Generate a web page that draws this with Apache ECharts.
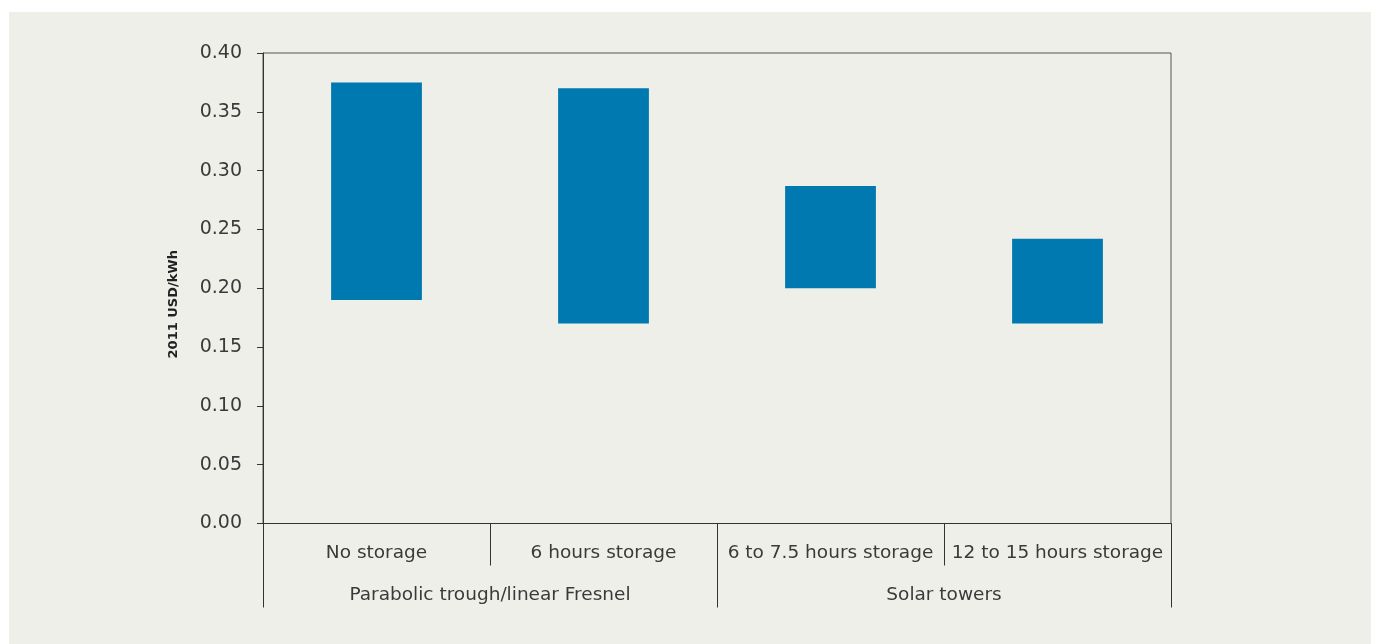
<!DOCTYPE html>
<html>
<head>
<meta charset="utf-8">
<script src="https://cdn.jsdelivr.net/npm/echarts@6/dist/echarts.min.js"></script>
<style>
html,body{margin:0;padding:0;background:#ffffff;}
#panel{position:absolute;left:9px;top:12px;width:1362px;height:632px;background:#efefea;}
#chart{position:absolute;left:0;top:0;width:1376px;height:644px;}
</style>
</head>
<body>
<div id="panel"></div>
<div id="chart"></div>
<script>
const categories = ['No storage', '6 hours storage', '6 to 7.5 hours storage', '12 to 15 hours storage'];
const groups = ['Parabolic trough/linear Fresnel', 'Solar towers'];
const lowValues = [0.19, 0.17, 0.20, 0.17];
const highValues = [0.375, 0.37, 0.287, 0.242];
const yTicks = ['0.00','0.05','0.10','0.15','0.20','0.25','0.30','0.35','0.40'];

const rangeValues = highValues.map((h, i) => +(h - lowValues[i]).toFixed(4));
const font = 'DejaVu Sans';
const textColor = '#3a3a3a';

const chart = echarts.init(document.getElementById('chart'), null, {renderer: 'canvas'});
chart.setOption({
  animation: false,
  backgroundColor: 'transparent',
  grid: {left: 263, right: 205, top: 53, bottom: 120.5, show: true, borderColor: '#555555', borderWidth: 1, backgroundColor: 'transparent'},
  xAxis: [
    {
      type: 'category', data: categories, position: 'bottom',
      axisLine: {show: true, lineStyle: {color: '#333333', width: 1}},
      axisTick: {show: true, interval: 0, length: 42, lineStyle: {color: '#333333', width: 1}},
      axisLabel: {interval: 0, fontFamily: font, fontSize: 18.5, color: textColor, margin: 20},
      splitLine: {show: false}
    },
    {
      type: 'category', data: groups, position: 'bottom',
      axisLine: {show: false},
      axisTick: {show: true, interval: 0, length: 84, lineStyle: {color: '#333333', width: 1}},
      axisLabel: {interval: 0, fontFamily: font, fontSize: 18.5, color: textColor, margin: 62},
      splitLine: {show: false}
    }
  ],
  yAxis: {
    type: 'value', min: 0, max: 0.4, interval: 0.05,
    name: '2011 USD/kWh', nameLocation: 'middle', nameGap: 83,
    nameTextStyle: {fontFamily: font, fontSize: 13, fontWeight: 'bold', color: '#222222', padding: [0, 32, 0, 0]},
    axisLine: {show: true, lineStyle: {color: '#333333', width: 1}},
    axisTick: {show: true, inside: false, length: 6, lineStyle: {color: '#333333'}},
    axisLabel: {fontFamily: font, fontSize: 19, color: textColor, margin: 21,
      formatter: (v) => yTicks[Math.round(v / 0.05)] },
    splitLine: {show: false}
  },
  series: [
    {type: 'bar', stack: 'r', data: lowValues, barWidth: '40%', itemStyle: {color: 'transparent'}, silent: true},
    {type: 'bar', stack: 'r', data: rangeValues, barWidth: '40%', itemStyle: {color: '#0079b0'}}
  ]
});
</script>
</body>
</html>
